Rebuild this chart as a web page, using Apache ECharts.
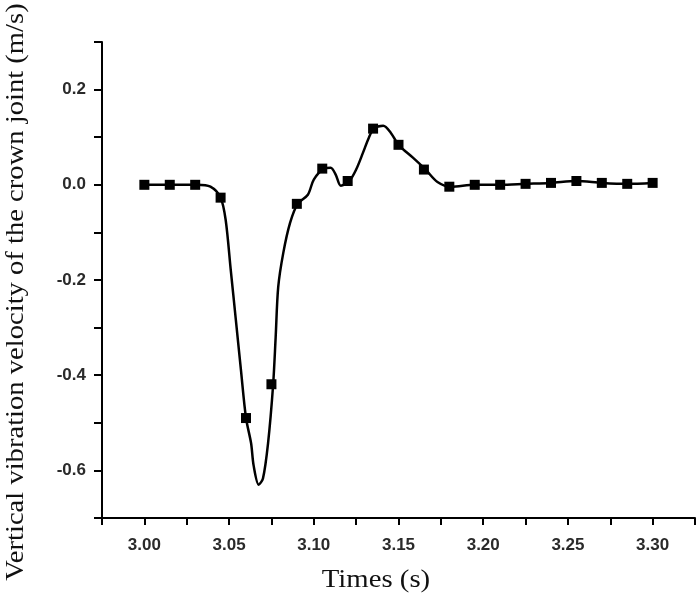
<!DOCTYPE html>
<html>
<head>
<meta charset="utf-8">
<script src="https://cdn.jsdelivr.net/npm/echarts@6/dist/echarts.min.js"></script>
<style>html,body{margin:0;padding:0;background:#fff}#c{width:699px;height:602px}</style>
</head>
<body>
<div id="c"></div>
<script>
// Marker samples (time s, velocity m/s)
const markerTimes = [3.000,3.015,3.030,3.045,3.060,3.075,3.090,3.105,3.120,3.135,3.150,3.165,3.180,3.195,3.210,3.225,3.240,3.255,3.270,3.285,3.300];
const markerValues = [0.000,0.000,0.000,-0.027,-0.490,-0.419,-0.040,0.034,0.008,0.118,0.084,0.032,-0.004,0.000,0.000,0.002,0.004,0.008,0.004,0.002,0.004];
// Traced continuous curve
const curveTimes = [3.000,3.015,3.031,3.039,3.045,3.048,3.051,3.054,3.057,3.060,3.063,3.0645,3.0675,3.070,3.073,3.076,3.0775,3.079,3.082,3.086,3.0905,3.0965,3.100,3.106,3.110,3.113,3.116,3.121,3.125,3.129,3.1325,3.1355,3.141,3.1455,3.150,3.1585,3.166,3.173,3.181,3.195,3.210,3.225,3.240,3.255,3.270,3.285,3.300];
const curveValues = [0.000,0.000,0.000,-0.004,-0.027,-0.074,-0.179,-0.284,-0.389,-0.490,-0.543,-0.590,-0.630,-0.617,-0.543,-0.420,-0.320,-0.215,-0.143,-0.080,-0.040,-0.021,0.011,0.034,0.036,0.021,-0.002,0.008,0.032,0.067,0.099,0.118,0.124,0.109,0.084,0.057,0.032,0.006,-0.004,0.000,0.000,0.002,0.004,0.008,0.004,0.002,0.004];
const yTitle = 'Vertical vibration velocity of the crown joint (m/s)';
const xTitle = 'Times (s)';

const chart = echarts.init(document.getElementById('c'));
const labelStyle = {color:'#2a2a2a', fontFamily:'Liberation Sans, Arial, sans-serif', fontWeight:'bold', fontSize:17};
const serif = 'Liberation Serif, Times New Roman, serif';
chart.setOption({
  animation:false,
  backgroundColor:'#fff',
  grid:{left:102, right:4, top:42, bottom:84, containLabel:false, outerBoundsMode:'none'},
  xAxis:{
    type:'value', min:2.975, max:3.325, interval:0.025,
    splitLine:{show:false},
    axisLine:{onZero:false, lineStyle:{color:'#000', width:2}},
    axisTick:{inside:false, length:7, lineStyle:{color:'#000', width:2}},
    axisLabel:Object.assign({margin:19, formatter:function(v){const k=Math.round(v*1000); return (k%50===0)?(k/1000).toFixed(2):'';}}, labelStyle)
  },
  yAxis:{
    type:'value', min:-0.7, max:0.3, interval:0.1,
    splitLine:{show:false},
    axisLine:{onZero:false, lineStyle:{color:'#000', width:2}},
    axisTick:{inside:false, length:8, lineStyle:{color:'#000', width:2}},
    axisLabel:Object.assign({margin:16, formatter:function(v){const k=Math.round(v*10); return (Math.abs(k)%2===0)?(k/10).toFixed(1):'';}}, labelStyle)
  },
  graphic:[
    {type:'text', x:16, y:292, rotation:Math.PI/2, scaleX:1.1,
     style:{text:yTitle, font:'26px ' + serif, fill:'#111', align:'center', verticalAlign:'middle'}},
    {type:'text', x:376, y:580, scaleX:1.15,
     style:{text:xTitle, font:'25px ' + serif, fill:'#111', align:'center', verticalAlign:'middle'}}
  ],
  series:[
    {type:'line', data:curveTimes.map((t,i)=>[t,curveValues[i]]), smooth:0.3, showSymbol:false,
     lineStyle:{color:'#000', width:2.5}, z:2},
    {type:'scatter', data:markerTimes.map((t,i)=>[t,markerValues[i]]), symbol:'rect', symbolSize:10,
     itemStyle:{color:'#000', opacity:1}, z:3}
  ]
});
</script>
</body>
</html>
